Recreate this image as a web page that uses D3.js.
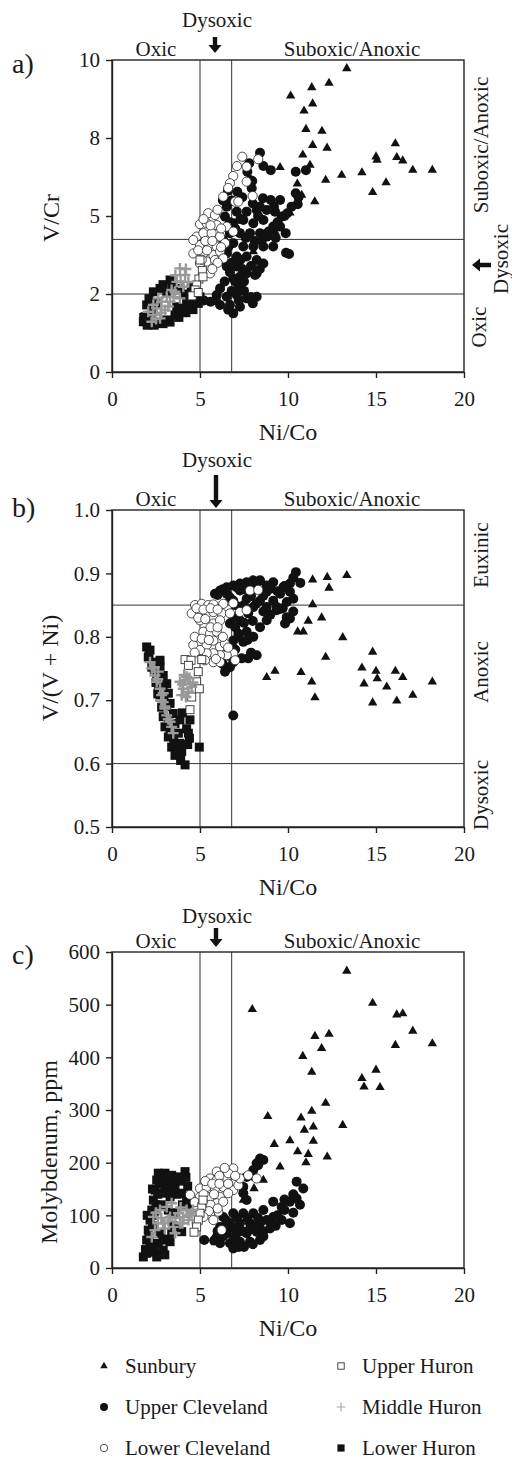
<!DOCTYPE html>
<html>
<head>
<meta charset="utf-8">
<script src="https://cdn.jsdelivr.net/npm/d3@7"></script>
<style>
    body { margin: 0; background: #fff; }
    text { font-family: "Liberation Serif", "Times New Roman", serif; fill: #1a1a1a; }
</style>
</head>
<body>
<svg id="chart" width="512" height="1459"></svg>
<script>
// ---- axis values ----
const niCoTicks = [0, 5, 10, 15, 20];
const niCoBounds = [5, 6.8];
const vCrTicks = [0, 2.5, 5, 7.5, 10];
const vCrTickLabels = ["0", "2", "5", "8", "10"];
const vCrBounds = [2.5, 4.25];
const vvniTicks = [0.5, 0.6, 0.7, 0.8, 0.9, 1.0];
const vvniBounds = [0.6, 0.85];
const moTicks = [0, 100, 200, 300, 400, 500, 600];

const seriesNames = ["Sunbury", "Upper Cleveland", "Lower Cleveland", "Upper Huron", "Middle Huron", "Lower Huron"];

// ---- a) Ni/Co vs V/Cr ----
const sunburyA = [[10.15,8.85],[11.35,9.12],[12.33,9.26],[13.34,9.73],[10.91,8.37],[11.40,8.60],[11.02,7.78],[11.93,7.72],
    [11.40,7.27],[12.22,7.18],[10.84,6.96],[16.10,7.32],[15.00,6.90],[15.06,6.79],[16.18,6.88],[16.52,6.77],[17.09,6.47],
    [18.20,6.47],[9.55,6.56],[11.25,6.63],[13.05,6.31],[14.20,6.39],[12.14,6.15],[15.57,6.07],[14.81,5.76],[10.53,6.03],
    [11.52,5.46],[10.78,5.67],[10.11,5.10],[9.26,4.50],[8.03,3.86]];
const upperClevelandA = [[8.41,7.03],[8.60,6.60],[9.02,6.47],[7.80,6.69],[7.69,6.42],[10.44,6.42],[11.02,6.47],[7.84,6.15],
    [6.59,5.81],[7.12,5.78],[7.97,6.12],[7.94,5.89],[8.58,5.57],[9.02,5.51],[9.55,5.51],[10.44,5.73],[10.55,5.38],[9.96,5.09],
    [6.52,5.30],[7.09,5.14],[7.65,5.14],[8.22,5.19],[8.79,5.19],[9.26,5.14],[9.64,4.98],[6.42,4.98],[6.89,4.77],[7.46,4.87],
    [8.03,4.77],[8.60,4.87],[9.16,4.66],[9.55,4.66],[9.87,4.45],[6.70,4.45],[7.27,4.45],[7.84,4.45],[8.41,4.45],[8.79,4.34],
    [6.32,4.23],[6.89,4.13],[7.46,4.02],[8.03,4.02],[8.60,4.02],[9.16,4.02],[9.89,3.82],[10.06,3.78],[6.52,3.80],[7.09,3.70],
    [7.65,3.70],[8.22,3.59],[8.60,3.48],[6.52,3.38],[7.09,3.38],[7.65,3.16],[8.22,3.16],[8.13,3.11],[6.89,3.00],[7.27,3.05],
    [7.16,2.84],[7.27,2.73],[6.14,2.68],[7.09,2.47],[5.95,2.47],[6.52,2.41],[7.65,2.36],[8.22,2.41],[6.14,2.15],[6.70,2.15],
    [7.27,2.09],[6.89,1.88],[5.23,2.29],
    [6.30,5.50],[6.80,5.50],[7.40,5.60],[8.00,5.40],[8.40,5.30],[6.60,4.00],[7.00,4.60],[7.60,4.30],[8.10,4.20],[8.50,4.20],
    [8.90,4.50],[9.30,4.30],[6.30,3.60],[6.80,3.50],[7.30,3.60],[7.90,3.40],[8.40,3.30],[6.70,3.20],[7.40,3.30],[7.00,2.90],
    [7.50,2.90],[6.40,2.90],[6.80,2.60],[7.50,2.60],[7.90,2.40],[7.20,2.30],[6.60,2.00],[8.00,2.20],[9.20,5.30],[9.80,5.00],
    [10.20,5.30],[10.60,5.60],[9.40,4.80],[8.30,5.00],[7.30,4.90],[6.70,4.80],[5.60,2.25],[5.90,2.30]];
const lowerClevelandA = [[8.31,6.82],[7.65,6.58],[7.65,6.10],[6.89,6.28],[6.32,5.62],[6.99,5.46],[7.99,5.64],[5.47,5.09],
    [5.85,5.03],[5.00,4.74],[5.38,4.77],[5.95,4.71],[6.52,4.66],[4.81,4.34],[5.19,4.45],[5.66,4.45],[6.14,4.34],[6.89,4.50],
    [5.00,4.07],[5.47,4.07],[5.95,4.02],[6.42,4.13],[4.62,3.80],[5.19,3.80],[5.76,3.75],[6.14,3.86],[5.38,3.54],[5.85,3.59],
    [5.57,3.16],[6.32,3.64],[6.70,6.05],[7.18,5.46],[4.62,4.23],[5.00,3.48],
    [5.20,4.90],[5.60,4.70],[6.00,5.20],[5.30,4.20],[5.70,4.20],[6.20,4.60],[4.90,3.90],[5.40,3.90],[6.00,3.50],[5.70,3.30],
    [5.10,3.60],[6.60,5.90],[7.10,6.60],[7.40,6.90],[6.20,4.00]];
const upperHuronA = [[5.00,3.59],[5.13,3.25],[4.94,2.98],[4.81,2.79],[4.72,2.63],[4.55,2.44],[5.17,3.05],[4.90,2.55]];
const middleHuronA = [[3.86,3.32],[4.15,3.11],[3.68,2.89],[4.05,2.73],[3.39,2.63],[3.11,2.41],[2.82,2.25],[2.54,2.04],
    [2.35,1.83],[2.26,1.61],[2.63,2.36],[3.30,2.25],[3.01,1.99],[2.73,1.72],[3.58,2.57],[3.86,2.36],[4.34,2.89],[2.06,1.93],
    [2.35,2.15],[3.60,3.10],[3.90,2.90],[3.20,2.10],[2.50,1.70],[2.80,1.90],[4.20,3.30],[3.50,2.40]];
const lowerHuronA = [[1.88,1.77],[2.16,1.61],[2.63,1.56],[3.11,1.67],[3.58,1.83],[4.05,1.99],[4.43,2.15],[4.72,2.41],
    [5.00,2.41],[2.35,2.57],[1.97,2.15],[2.73,2.68],[3.11,2.52],[3.30,2.95],[3.96,2.04],[1.78,1.61],[2.26,1.88],[3.68,2.09],
    [4.24,2.31],[3.86,2.68],[1.80,1.75],[2.00,1.50],[2.40,1.50],[2.90,1.55],[3.30,1.60],[3.80,1.75],[4.20,1.90],[4.60,2.00],
    [4.90,2.20],[2.10,2.35],[2.50,2.20],[2.90,2.80],[3.40,2.75],[4.10,2.50],[4.50,2.70]];

// ---- b) Ni/Co vs V/(V + Ni) ----
const sunburyB = [[10.11,0.886],[11.40,0.890],[12.23,0.894],[13.34,0.897],[12.33,0.877],[11.40,0.851],[11.91,0.830],
    [11.15,0.825],[10.55,0.808],[10.87,0.808],[13.11,0.799],[12.14,0.768],[14.81,0.776],[8.79,0.736],[9.26,0.746],
    [10.74,0.744],[11.35,0.729],[11.53,0.704],[14.20,0.751],[14.32,0.726],[15.00,0.746],[15.07,0.734],[15.61,0.721],
    [16.10,0.746],[16.52,0.736],[14.81,0.696],[16.18,0.699],[17.09,0.708],[18.20,0.729]];
const upperClevelandB = [[10.45,0.902],[10.11,0.884],[9.73,0.878],[9.16,0.886],[8.79,0.881],[8.41,0.889],[8.03,0.889],
    [7.65,0.886],[7.27,0.884],[6.89,0.881],[6.52,0.878],[6.14,0.873],[5.85,0.868],[6.52,0.868],[7.27,0.873],[8.03,0.876],
    [8.79,0.871],[9.55,0.868],[10.11,0.871],[6.89,0.857],[7.65,0.860],[8.41,0.857],[9.16,0.857],[9.93,0.855],[7.27,0.847],
    [8.03,0.847],[8.79,0.847],[9.36,0.847],[9.55,0.844],[9.36,0.842],[7.74,0.837],[9.93,0.831],[10.11,0.829],[9.83,0.821],
    [8.79,0.826],[7.27,0.826],[6.70,0.821],[8.41,0.815],[7.65,0.808],[7.18,0.805],[8.03,0.800],[6.89,0.794],[7.46,0.792],
    [6.52,0.784],[8.22,0.771],[7.74,0.766],[7.37,0.766],[6.89,0.760],[6.70,0.752],[6.42,0.745],[6.89,0.676],
    [6.00,0.866],[6.30,0.875],[6.70,0.862],[7.10,0.878],[7.50,0.875],[7.90,0.864],[8.20,0.880],[8.60,0.865],[9.00,0.876],
    [9.40,0.872],[9.80,0.880],[10.30,0.893],[7.00,0.850],[7.50,0.850],[8.20,0.852],[8.60,0.840],[9.00,0.835],[9.70,0.845],
    [10.30,0.860],[7.00,0.815],[7.50,0.822],[8.00,0.825],[6.90,0.830],[7.20,0.800],[7.70,0.795],[7.00,0.780],[6.60,0.770],
    [7.90,0.775],[6.30,0.757],[10.70,0.885],[10.30,0.840]];
const lowerClevelandB = [[7.84,0.873],[8.31,0.874],[6.89,0.853],[6.32,0.852],[4.72,0.850],[5.10,0.852],[5.47,0.850],
    [5.76,0.851],[6.23,0.837],[6.70,0.837],[7.27,0.839],[7.65,0.842],[4.53,0.837],[5.00,0.839],[5.38,0.837],[5.76,0.839],
    [5.00,0.826],[5.76,0.821],[6.14,0.826],[5.19,0.808],[5.57,0.805],[5.95,0.808],[5.00,0.789],[4.62,0.787],[5.38,0.787],
    [5.76,0.794],[6.14,0.784],[6.42,0.789],[6.89,0.774],[6.52,0.771],[6.14,0.771],[5.76,0.774],[5.38,0.774],[5.00,0.779],
    [5.76,0.760],[5.28,0.763],[6.14,0.760],
    [4.80,0.845],[5.20,0.843],[5.60,0.845],[6.00,0.843],[4.90,0.830],[5.30,0.828],[5.60,0.815],[6.00,0.815],[4.70,0.800],
    [5.10,0.797],[5.50,0.795],[6.30,0.800],[4.70,0.775],[6.60,0.783],[7.00,0.763],[5.90,0.765]];
const upperHuronB = [[4.15,0.764],[4.49,0.763],[5.10,0.764],[4.34,0.755],[4.90,0.745],[4.81,0.729],[4.96,0.718],
    [4.43,0.685],[4.53,0.705]];
const middleHuronB = [[2.16,0.760],[2.26,0.750],[2.44,0.739],[2.54,0.729],[2.73,0.718],[2.82,0.708],[2.91,0.697],
    [3.01,0.687],[3.11,0.676],[3.30,0.666],[3.39,0.658],[3.48,0.648],[2.63,0.745],[2.91,0.711],[3.86,0.729],[4.15,0.731],
    [4.43,0.726],[4.05,0.718],[4.34,0.713],[3.96,0.708],[4.24,0.737],[4.53,0.721],
    [2.40,0.752],[2.60,0.733],[2.80,0.700],[3.20,0.670],[3.00,0.690],[4.00,0.725],[4.10,0.740],[4.40,0.735],[4.60,0.728],
    [4.20,0.705]];
const lowerHuronB = [[1.97,0.784],[2.16,0.779],[2.06,0.768],[2.44,0.760],[2.73,0.763],[2.26,0.752],[2.73,0.752],
    [2.54,0.737],[2.91,0.739],[2.63,0.721],[3.11,0.726],[2.73,0.705],[3.20,0.711],[2.82,0.689],[3.30,0.695],[2.91,0.674],
    [3.48,0.679],[3.01,0.658],[3.58,0.663],[3.20,0.642],[3.77,0.648],[3.39,0.626],[3.86,0.632],[3.58,0.613],[3.96,0.619],
    [4.15,0.598],[3.86,0.669],[4.24,0.655],[4.34,0.648],[4.43,0.669],[4.96,0.626],
    [2.10,0.770],[2.40,0.748],[2.50,0.728],[2.60,0.710],[2.90,0.720],[2.95,0.700],[3.10,0.690],[3.20,0.665],[3.30,0.650],
    [3.50,0.640],[3.60,0.628],[3.75,0.615],[3.90,0.605],[4.30,0.630],[4.40,0.640],[4.00,0.680]];

// ---- c) Ni/Co vs Molybdenum ----
const sunburyC = [[7.97,491],[13.34,564],[14.81,503],[16.18,481],[16.52,483],[17.09,450],[18.20,426],[16.10,423],
    [11.53,440],[12.33,444],[11.91,417],[10.84,402],[11.35,372],[14.20,360],[15.00,376],[14.32,344],[15.23,343],
    [12.14,313],[11.35,298],[10.74,285],[11.44,268],[10.93,262],[13.11,271],[8.85,288],[10.11,242],[9.22,235],
    [11.44,241],[10.55,221],[11.15,216],[12.23,211],[11.02,200],[9.55,192],[8.60,167],[8.07,151],[7.46,129],[10.11,130]];
const upperClevelandC = [[8.41,208],[8.22,199],[8.03,186],[7.65,173],[7.46,154],[10.49,164],[10.87,151],[10.49,132],
    [10.68,120],[10.11,126],[9.16,126],[9.64,116],[8.60,110],[8.03,104],[7.46,104],[6.89,104],[6.32,97],[9.16,97],
    [9.64,91],[10.11,85],[8.79,91],[8.41,85],[7.84,85],[7.27,85],[6.70,85],[6.14,78],[8.98,75],[8.22,69],[7.65,66],
    [7.09,66],[6.52,66],[5.95,59],[7.27,50],[6.70,47],[6.14,47],[7.84,50],[8.41,53],[5.24,53],[6.89,37],[7.46,142],
    [7.65,129],
    [6.30,60],[6.60,75],[7.00,75],[7.40,70],[7.80,72],[8.20,80],[8.60,70],[9.00,90],[9.40,100],[9.80,110],[10.30,105],
    [6.90,55],[7.50,40],[8.00,45],[8.60,60],[9.30,80],[6.50,90],[7.10,95],[7.70,95],[8.30,95],[5.80,52],[6.00,70],
    [7.20,40],[9.80,130],[10.30,140],[8.30,195],[8.60,205],[8.00,175]];
const lowerClevelandC = [[6.89,189],[6.42,186],[5.95,183],[5.57,170],[5.95,167],[6.52,173],[5.00,151],[5.38,154],
    [5.85,151],[6.32,154],[6.89,148],[4.43,139],[5.00,135],[5.57,135],[6.14,135],[4.81,116],[5.38,116],[5.95,123],
    [6.32,126],[6.04,107],[5.57,101],[5.76,91],[6.23,72],[4.81,85],[7.18,157],[7.27,170],[7.74,176],[8.22,170],
    [5.30,165],[5.70,160],[6.10,175],[6.60,180],[6.10,160],[5.20,140],[5.80,140],[6.60,142],[4.70,125],[5.20,125],
    [5.60,120],[6.00,113],[5.50,108],[5.20,97],[6.60,160],[7.00,175],[6.40,190]];
const upperHuronC = [[5.10,116],[5.00,104],[4.90,91],[4.81,78],[5.17,129],[4.66,68]];
const middleHuronC = [[2.35,97],[2.73,110],[3.11,116],[3.30,97],[2.91,85],[2.44,72],[2.26,59],[3.48,78],[3.77,104],
    [4.05,97],[4.34,91],[3.86,85],[4.24,110],[3.58,66],[3.39,123],[4.53,104],
    [2.50,105],[2.80,95],[3.00,75],[3.20,90],[3.60,95],[4.00,85],[4.40,100],[4.60,110],[3.90,115],[2.60,85]];
const lowerHuronC = [[1.78,21],[1.97,28],[2.54,21],[2.91,34],[2.16,47],[1.97,53],[2.06,72],[2.16,91],[2.26,110],
    [2.35,129],[2.44,148],[2.54,167],[2.63,180],[3.01,180],[3.39,176],[3.77,173],[4.15,183],[3.11,161],[3.58,154],
    [2.91,142],[3.30,135],[3.96,142],[4.24,129],[3.11,53],[3.39,66],[3.68,78],[2.73,66],[2.63,47],[2.35,40],[2.82,173],
    [4.43,116],[3.96,69],
    [1.90,35],[2.20,30],[2.40,35],[2.70,28],[3.00,25],[2.10,60],[2.30,80],[2.00,100],[2.40,100],[2.50,120],[2.30,150],
    [2.60,140],[2.70,160],[2.90,165],[3.20,170],[3.50,165],[3.90,165],[4.20,172],[4.30,155],[3.00,150],[3.40,150],
    [3.70,140],[2.80,120],[3.20,110],[3.60,105],[4.00,120],[4.40,130],[2.90,55],[3.30,50],[3.50,80]];

// ---- drawing ----
const svg = d3.select('#chart');
svg.append('rect').attr('width', 512).attr('height', 1459).attr('fill', '#fff');

const plotLeft = 112, plotRight = 464;
const x = d3.scaleLinear().domain([0, 20]).range([plotLeft, plotRight]);

const markers = {
    "Sunbury": (sel, s) => sel.append('path')
        .attr('d', d3.symbol(d3.symbolTriangle, 38 * s * s)).attr('fill', '#111'),
    "Upper Cleveland": (sel, s) => sel.append('circle')
        .attr('r', 5 * s).attr('fill', '#111'),
    "Lower Cleveland": (sel, s) => sel.append('circle')
        .attr('r', 4.6 * s).attr('fill', '#fff').attr('stroke', '#222').attr('stroke-width', 0.8),
    "Upper Huron": (sel, s) => sel.append('rect')
        .attr('x', -4 * s).attr('y', -4 * s).attr('width', 8 * s).attr('height', 8 * s)
        .attr('fill', '#fff').attr('stroke', '#333').attr('stroke-width', 0.9),
    "Middle Huron": (sel, s) => sel.append('path')
        .attr('d', `M${-5.5 * s},0H${5.5 * s}M0,${-5.5 * s}V${5.5 * s}`)
        .attr('stroke', s < 1 ? '#aaa' : '#999').attr('stroke-width', s < 1 ? 1.2 : 2.4).attr('fill', 'none'),
    "Lower Huron": (sel, s) => sel.append('rect')
        .attr('x', -4.5 * s).attr('y', -4.5 * s).attr('width', 9 * s).attr('height', 9 * s).attr('fill', '#111')
};

// draw order: triangles underneath, crosses on top
const drawOrder = ["Sunbury", "Lower Huron", "Upper Cleveland", "Lower Cleveland", "Upper Huron", "Middle Huron"];

function arrow(g, cx, cy, len, dir) {
    // dir: 'down' or 'left'; (cx, cy) is the tail, tip lies len away
    const hw = 6.5, sw = 2.2, hl = 8;
    let pts;
    if (dir === 'down') {
        const tip = cy + len;
        pts = [[cx - sw, cy], [cx + sw, cy], [cx + sw, tip - hl], [cx + hw, tip - hl], [cx, tip],
            [cx - hw, tip - hl], [cx - sw, tip - hl]];
    } else {
        const tip = cx - len;
        pts = [[cx, cy - sw], [cx, cy + sw], [tip + hl, cy + sw], [tip + hl, cy + hw], [tip, cy],
            [tip + hl, cy - hw], [tip + hl, cy - sw]];
    }
    g.append('path').attr('d', 'M' + pts.join('L') + 'Z').attr('fill', '#111');
}

function drawPanel(p) {
    const y = d3.scaleLinear().domain(p.yDomain).range([p.bottom, p.top]);
    const g = svg.append('g');

    // threshold lines
    g.selectAll('.vline').data(niCoBounds).enter().append('line')
        .attr('x1', d => x(d)).attr('x2', d => x(d))
        .attr('y1', p.top).attr('y2', p.bottom)
        .attr('stroke', '#333').attr('stroke-width', 1);
    g.selectAll('.hline').data(p.hLines).enter().append('line')
        .attr('x1', plotLeft).attr('x2', plotRight)
        .attr('y1', d => y(d)).attr('y2', d => y(d))
        .attr('stroke', '#333').attr('stroke-width', 1);

    // points
    drawOrder.forEach(name => {
        const pts = p.series[name];
        const sel = g.selectAll(null).data(pts).enter().append('g')
            .attr('transform', d => `translate(${x(d[0])},${y(d[1])})`);
        markers[name](sel, 1);
    });

    // frame
    g.append('rect')
        .attr('x', plotLeft).attr('y', p.top)
        .attr('width', plotRight - plotLeft).attr('height', p.bottom - p.top)
        .attr('fill', 'none').attr('stroke', '#222').attr('stroke-width', 1.4);

    // axes
    const xAxis = g.append('g').attr('transform', `translate(0,${p.bottom})`)
        .call(d3.axisBottom(x).tickValues(niCoTicks).tickSize(6).tickSizeOuter(0).tickPadding(13)
            .tickFormat(d3.format('d')));
    const yAxis = g.append('g').attr('transform', `translate(${plotLeft},0)`)
        .call(d3.axisLeft(y).tickValues(p.yTicks).tickSize(6).tickSizeOuter(0).tickPadding(6)
            .tickFormat((d, i) => p.yLabels[i]));
    [xAxis, yAxis].forEach(a => {
        a.select('.domain').attr('stroke', '#222').attr('stroke-width', 1.4);
        a.selectAll('.tick line').attr('stroke', '#222').attr('stroke-width', 1.4);
        a.selectAll('.tick text').attr('font-size', 21).attr('fill', '#1a1a1a')
            .style('font-family', '"Liberation Serif", "Times New Roman", serif');
    });

    // axis titles
    g.append('text').attr('x', (plotLeft + plotRight) / 2).attr('y', p.bottom + 68)
        .attr('text-anchor', 'middle').attr('font-size', 24).text('Ni/Co');
    g.append('text').attr('transform', `translate(${p.yTitleX},${p.yTitleY}) rotate(-90)`)
        .attr('text-anchor', 'middle').attr('font-size', 24).text(p.yTitle);

    // panel letter
    g.append('text').attr('x', 12).attr('y', p.letterY).attr('font-size', 28).text(p.letter);

    // zone labels along the top
    const topY = p.top - 4;
    g.append('text').attr('x', 156).attr('y', topY).attr('text-anchor', 'middle').attr('font-size', 21).text('Oxic');
    g.append('text').attr('x', 352).attr('y', topY).attr('text-anchor', 'middle').attr('font-size', 21).text('Suboxic/Anoxic');
    g.append('text').attr('x', 217).attr('y', p.dysoxicY).attr('text-anchor', 'middle').attr('font-size', 21).text('Dysoxic');
    arrow(g, p.arrowX, p.arrowTop, p.arrowLen, 'down');

    // zone labels along the right side
    p.sideLabels.forEach(s => {
        g.append('text').attr('transform', `translate(${s.x},${s.y}) rotate(-90)`)
            .attr('text-anchor', 'middle').attr('font-size', 21).text(s.text);
    });
    if (p.sideArrow) arrow(g, p.sideArrow.x, p.sideArrow.y, p.sideArrow.len, 'left');
}

drawPanel({
    letter: 'a)', letterY: 73, top: 60, bottom: 372,
    yDomain: [0, 10], yTicks: vCrTicks, yLabels: vCrTickLabels, hLines: vCrBounds,
    yTitle: 'V/Cr', yTitleX: 59, yTitleY: 218,
    dysoxicY: 27, arrowX: 215, arrowTop: 37, arrowLen: 16,
    sideLabels: [{ text: 'Suboxic/Anoxic', x: 488, y: 145 }, { text: 'Dysoxic', x: 508, y: 259 }, { text: 'Oxic', x: 486, y: 327 }],
    sideArrow: { x: 491, y: 265, len: 19 },
    series: {
        "Sunbury": sunburyA, "Upper Cleveland": upperClevelandA, "Lower Cleveland": lowerClevelandA,
        "Upper Huron": upperHuronA, "Middle Huron": middleHuronA, "Lower Huron": lowerHuronA
    }
});

drawPanel({
    letter: 'b)', letterY: 517, top: 510, bottom: 827,
    yDomain: [0.5, 1.0], yTicks: vvniTicks, yLabels: vvniTicks.map(d3.format('.1f')), hLines: vvniBounds,
    yTitle: 'V/(V + Ni)', yTitleX: 58, yTitleY: 668,
    dysoxicY: 467, arrowX: 216, arrowTop: 475, arrowLen: 33,
    sideLabels: [{ text: 'Euxinic', x: 488, y: 555 }, { text: 'Anoxic', x: 488, y: 672 }, { text: 'Dysoxic', x: 488, y: 795 }],
    series: {
        "Sunbury": sunburyB, "Upper Cleveland": upperClevelandB, "Lower Cleveland": lowerClevelandB,
        "Upper Huron": upperHuronB, "Middle Huron": middleHuronB, "Lower Huron": lowerHuronB
    }
});

drawPanel({
    letter: 'c)', letterY: 964, top: 952, bottom: 1268,
    yDomain: [0, 600], yTicks: moTicks, yLabels: moTicks.map(String), hLines: [],
    yTitle: 'Molybdenum, ppm', yTitleX: 57, yTitleY: 1152,
    dysoxicY: 923, arrowX: 216, arrowTop: 928, arrowLen: 19,
    sideLabels: [],
    series: {
        "Sunbury": sunburyC, "Upper Cleveland": upperClevelandC, "Lower Cleveland": lowerClevelandC,
        "Upper Huron": upperHuronC, "Middle Huron": middleHuronC, "Lower Huron": lowerHuronC
    }
});

// ---- legend ----
const legendCols = [104, 341], legendRows = [1366, 1407, 1448];
const legend = svg.append('g').selectAll(null).data(seriesNames).enter().append('g')
    .attr('transform', (d, i) => `translate(${legendCols[Math.floor(i / 3)]},${legendRows[i % 3]})`);
legend.each(function (d) { markers[d](d3.select(this), 0.8); });
legend.append('text').attr('x', 21).attr('y', 7).attr('font-size', 21).text(d => d);
</script>
</body>
</html>
